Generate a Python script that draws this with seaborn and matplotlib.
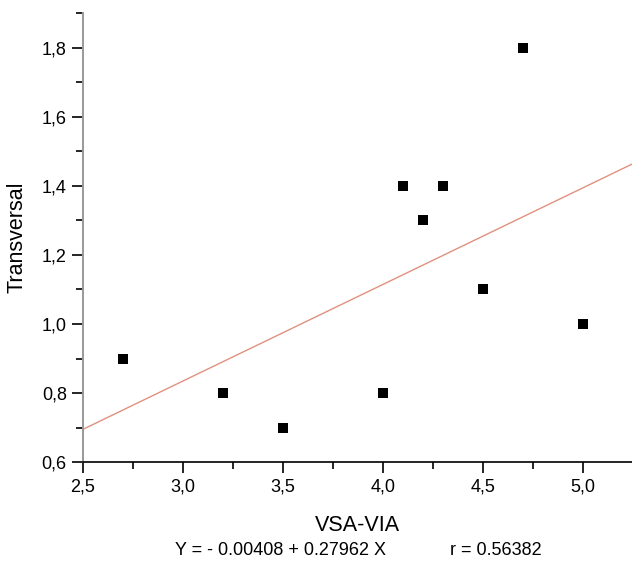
import numpy as np
import pandas as pd
import seaborn as sns
import matplotlib.pyplot as plt
from matplotlib.ticker import MultipleLocator, FuncFormatter

### Data
vsa_via = [2.7, 3.2, 3.5, 4.0, 4.1, 4.2, 4.3, 4.5, 4.7, 5.0]
transversal = [0.9, 0.8, 0.7, 0.8, 1.4, 1.3, 1.4, 1.1, 1.8, 1.0]
equation_text = "Y = - 0.00408 + 0.27962 X"
r_text = "r = 0.56382"

df = pd.DataFrame({"VSA-VIA": vsa_via, "Transversal": transversal})

sns.set_style("ticks")
plt.rcParams["font.family"] = ["Liberation Sans", "DejaVu Sans"]
plt.rcParams["text.color"] = "black"
plt.rcParams["axes.labelcolor"] = "black"
plt.rcParams["xtick.color"] = "black"
plt.rcParams["ytick.color"] = "black"

fig = plt.figure(figsize=(6.32, 5.63), dpi=100)
ax = fig.add_axes([0.131, 0.179, 0.869, 0.798])
ax.set_xlim(2.5, 5.245)
ax.set_ylim(0.6, 1.9)

# regression line over the full x range
sns.regplot(data=df, x="VSA-VIA", y="Transversal", ax=ax, ci=None, truncate=False,
            scatter=False, line_kws={"color": "#e0917f", "linewidth": 1.0})
sns.scatterplot(data=df, x="VSA-VIA", y="Transversal", ax=ax, marker="s", s=48,
                color="black", edgecolor="black", linewidth=0, zorder=3)

ax.set_xlim(2.5, 5.245)
ax.set_ylim(0.6, 1.9)

comma = FuncFormatter(lambda v, p: ("%.1f" % v).replace(".", ","))
ax.xaxis.set_major_locator(MultipleLocator(0.5))
ax.xaxis.set_minor_locator(MultipleLocator(0.25))
ax.yaxis.set_major_locator(MultipleLocator(0.2))
ax.yaxis.set_minor_locator(MultipleLocator(0.1))
ax.xaxis.set_major_formatter(comma)
ax.yaxis.set_major_formatter(comma)
ax.set_yticks([0.6, 0.8, 1.0, 1.2, 1.4, 1.6, 1.8])

ax.tick_params(which="major", direction="out", length=8, width=1.2, labelsize=13,
               color="black", labelcolor="black")
ax.tick_params(which="minor", direction="out", length=5, width=1.2, color="black")

sns.despine(ax=ax)
ax.spines["left"].set_color("#999999")
ax.spines["left"].set_linewidth(1.4)
ax.spines["bottom"].set_color("black")
ax.spines["bottom"].set_linewidth(1.2)

ax.set_xlabel("VSA-VIA", fontsize=15.5, labelpad=14, color="black")
ax.set_ylabel("Transversal", fontsize=15.5, labelpad=10, color="black")

fig.text(0.277, 0.023, equation_text, fontsize=13, ha="left", va="center", color="black")
fig.text(0.712, 0.023, r_text, fontsize=13, ha="left", va="center", color="black")

plt.savefig("out.png", dpi=100)
